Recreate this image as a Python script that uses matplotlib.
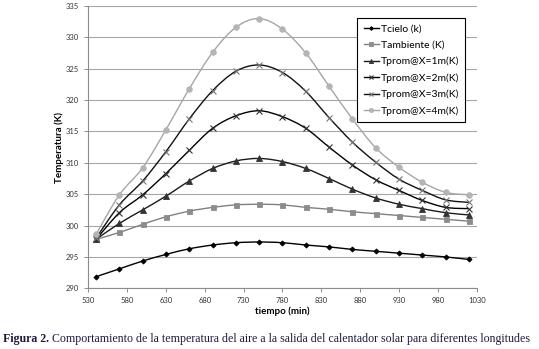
import matplotlib
matplotlib.use('Agg')
import matplotlib.pyplot as plt
from matplotlib.lines import Line2D
from matplotlib.path import Path
from matplotlib.patches import PathPatch
import numpy as np

# ========== Data ==========
tiempo = [540, 570, 600, 630, 660, 690, 720, 750, 780, 810, 840, 870, 900, 930, 960, 990, 1020]

t_cielo = [291.85, 293.1, 294.35, 295.4, 296.3, 296.9, 297.27, 297.38, 297.27, 296.9,
           296.6, 296.2, 295.9, 295.6, 295.3, 295.0, 294.6]
t_ambiente = [297.8, 298.9, 300.2, 301.4, 302.3, 302.9, 303.3, 303.4, 303.3, 302.9,
              302.6, 302.2, 301.9, 301.6, 301.3, 301.0, 300.7]
t_1m = [297.8, 300.35, 302.5, 304.7, 307.1, 309.1, 310.3, 310.7, 310.2, 309.1,
        307.5, 305.8, 304.4, 303.4, 302.7, 302.05, 301.7]
t_2m = [297.8, 302.05, 304.9, 308.3, 312.0, 315.5, 317.5, 318.3, 317.35, 315.5,
        312.5, 309.65, 307.3, 305.6, 304.0, 302.9, 302.7]
t_3m = [298.0, 303.3, 307.1, 311.8, 317.0, 321.5, 324.6, 325.6, 324.4, 321.4,
        317.2, 313.3, 310.1, 307.4, 305.6, 304.1, 303.7]
t_4m = [298.6, 304.9, 309.2, 315.3, 321.8, 327.6, 331.6, 333.0, 331.3, 327.5,
        322.2, 317.0, 312.4, 309.3, 306.9, 305.3, 304.9]

labels = ['Tcielo (k)', 'Tambiente (K)', 'Tprom@X=1m(K)', 'Tprom@X=2m(K)',
          'Tprom@X=3m(K)', 'Tprom@X=4m(K)']
x_ticks = np.arange(530, 1031, 50)
y_ticks = np.arange(290, 336, 5)

caption_bold = 'Figura 2.'
caption_rest = ' Comportamiento de la temperatura del aire a la salida del calentador solar para diferentes longitudes'


def smooth_path(xs, ys):
    """Smoothed line through the points (Catmull-Rom drawn as cubic Bezier)."""
    p = np.column_stack([xs, ys]).astype(float)
    n = len(p)
    verts = [p[0]]
    codes = [Path.MOVETO]
    for i in range(n - 1):
        p0 = p[i - 1] if i > 0 else p[i]
        p3 = p[i + 2] if i + 2 < n else p[i + 1]
        c1 = p[i] + (p[i + 1] - p0) / 6.0
        c2 = p[i + 1] - (p3 - p[i]) / 6.0
        verts += [c1, c2, p[i + 1]]
        codes += [Path.CURVE4] * 3
    return Path(verts, codes)


# ========== Plot ==========
plt.rcParams['font.family'] = ['Lato', 'DejaVu Sans']

fig = plt.figure(figsize=(5.39, 3.49), dpi=100)
ax = fig.add_axes([0.1638, 0.1739, 0.7206, 0.8089])

series = [t_cielo, t_ambiente, t_1m, t_2m, t_3m, t_4m]
line_colors = ['#000000', '#808080', '#1a1a1a', '#000000', '#111111', '#a6a6a6']
markers = [
    dict(marker='D', ms=2.6, mfc='#000000', mec='#000000', mew=0.6),
    dict(marker='s', ms=3.6, mfc='#8c8c8c', mec='#8c8c8c', mew=0.6),
    dict(marker='^', ms=4.0, mfc='#333333', mec='#333333', mew=0.6),
    dict(marker='x', ms=4.0, mfc='none', mec='#333333', mew=0.8),
    dict(marker='x', ms=4.0, mfc='none', mec='#777777', mew=0.8),
    dict(marker='o', ms=4.0, mfc='#b4b4b4', mec='#b4b4b4', mew=0.6),
]
handles = []
for y, lab, col, mk in zip(series, labels, line_colors, markers):
    ax.add_patch(PathPatch(smooth_path(tiempo, y), fc='none', ec=col, lw=1.0, zorder=3))
    ax.plot(tiempo, y, ls='none', zorder=4, **mk)
    handles.append(Line2D([], [], color=col, lw=1.0, label=lab, **mk))

ax.set_xlim(530, 1030)
ax.set_ylim(290, 335)
ax.set_xticks(x_ticks)
ax.set_yticks(y_ticks)

# grid and spines like the spreadsheet chart
ax.yaxis.grid(True, color='#a6a6a6', lw=0.8)
ax.set_axisbelow(True)
for side in ['top', 'right']:
    ax.spines[side].set_visible(False)
for side in ['left', 'bottom']:
    ax.spines[side].set_color('#8c8c8c')
    ax.spines[side].set_linewidth(0.8)
ax.tick_params(axis='both', which='major', labelsize=5.5, colors='#8c8c8c',
               labelcolor='#333333', length=3, width=0.7, direction='out')

ax.set_xlabel('tiempo (min)', fontsize=7, fontweight='bold')
ax.xaxis.set_label_coords(0.5, -0.066)
ax.set_ylabel('Temperatura (K)', fontsize=7, fontweight='bold')
ax.yaxis.set_label_coords(-0.063, 0.5)

leg = ax.legend(handles=handles, loc='upper left', bbox_to_anchor=(0.6926, 0.9564),
                fontsize=7.5, frameon=True, fancybox=False, edgecolor='#000000',
                framealpha=1, handlelength=1.5, handletextpad=0.15, labelspacing=0.66,
                borderpad=0.6, markerscale=0.75, borderaxespad=0)
leg.get_frame().set_linewidth(0.8)

# caption under the chart
t1 = fig.text(0.005, 0.02, caption_bold, fontsize=8.6, fontweight='bold',
              family='Liberation Serif', color='#1c1c3a', va='baseline')
fig.canvas.draw()
bb = t1.get_window_extent()
fig.text(bb.x1 / fig.bbox.width, 0.02, caption_rest, fontsize=8.6,
         family='Liberation Serif', color='#1c1c3a', va='baseline')

fig.savefig('out.png', dpi=100)
